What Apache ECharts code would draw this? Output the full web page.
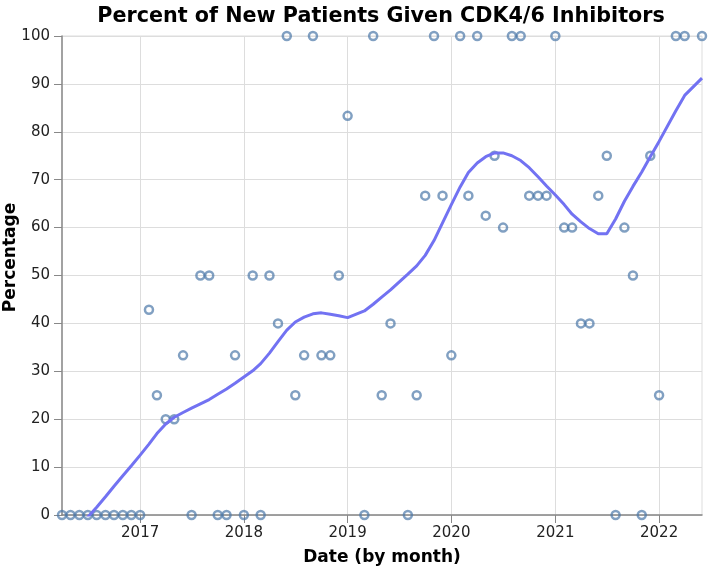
<!DOCTYPE html>
<html>
<head>
<meta charset="utf-8">
<script src="https://cdn.jsdelivr.net/npm/echarts@6/dist/echarts.min.js"></script>
<style>html,body{margin:0;padding:0;background:#fff}#c{width:709px;height:570px}</style>
</head>
<body>
<div id="c"></div>
<script>
var months = ['2016-04','2016-05','2016-06','2016-07','2016-08','2016-09','2016-10','2016-11','2016-12',
'2017-01','2017-02','2017-03','2017-04','2017-05','2017-06','2017-07','2017-08','2017-09','2017-10','2017-11','2017-12',
'2018-01','2018-02','2018-03','2018-04','2018-05','2018-06','2018-07','2018-08','2018-09','2018-10','2018-11','2018-12',
'2019-01','2019-03','2019-04','2019-05','2019-06','2019-08','2019-09','2019-10','2019-11','2019-12',
'2020-01','2020-02','2020-03','2020-04','2020-05','2020-06','2020-07','2020-08','2020-09','2020-10','2020-11','2020-12',
'2021-01','2021-02','2021-03','2021-04','2021-05','2021-06','2021-07','2021-08','2021-09','2021-10','2021-11','2021-12',
'2022-01','2022-03','2022-04','2022-06'];
var percentages = [0,0,0,0,0,0,0,0,0,
0,42.86,25,20,20,33.33,0,50,50,0,0,33.33,
0,50,0,50,40,100,25,33.33,100,33.33,33.33,50,
83.33,0,100,25,40,0,25,66.67,100,66.67,
33.33,100,66.67,100,62.5,75,60,100,100,66.67,66.67,66.67,
100,60,60,40,40,66.67,75,0,60,50,0,75,
25,100,100,100];
var loessFit = [-7,-4.8,-2.6,-0.4,1.6,3.8,6.0,8.2,10.3,
12.5,14.8,17,19,20.4,21.4,22.3,23.2,24.1,25.2,26.3,27.5,
28.8,30.1,31.6,33.8,36.2,38.6,40.3,41.3,42.0,42.2,41.9,41.6,
41.2,42.6,44,45.5,47,50.3,52,54.2,57.3,61,
64.8,68.5,71.5,73.5,74.8,75.6,75.6,75,74,72.5,70.6,68.7,
66.8,64.8,62.8,61.2,59.8,58.7,58.7,61.8,65.5,68.6,71.6,74.8,
78,84.4,87.6,91.2];
var yearTicks = ['2017','2018','2019','2020','2021','2022'];
var xStart = '2016-04', xEnd = '2022-06';

function ts(s){var p=s.split('-');return new Date(+p[0],(p[1]?+p[1]:1)-1,1).getTime();}
var scatterData = months.map(function(m,i){return [ts(m),percentages[i]];});
var lineData = months.map(function(m,i){return [ts(m),loessFit[i]];});
var yearTs = yearTicks.map(function(y){return ts(y);});

var chart = echarts.init(document.getElementById('c'));
var font = 'DejaVu Sans';
chart.setOption({
  animation:false,
  backgroundColor:'#fff',
  title:{text:'Percent of New Patients Given CDK4/6 Inhibitors',left:376,textAlign:'center',top:1,
    textStyle:{fontFamily:font,fontWeight:'bold',fontSize:20.7,color:'#000'}},
  grid:{left:62,right:7,top:36,bottom:55,show:true,borderColor:'#ddd',borderWidth:1,containLabel:false,outerBoundsMode:'none'},
  xAxis:{type:'value',min:ts(xStart),max:ts(xEnd),scale:true,
    name:'Date (by month)',nameLocation:'middle',nameGap:34,nameMoveOverlap:false,
    nameTextStyle:{fontFamily:font,fontWeight:'bold',fontSize:17,color:'#000'},
    axisLine:{show:true,onZero:false,lineStyle:{color:'#888',width:1.5}},
    axisTick:{show:true,length:8,lineStyle:{color:'#888'},customValues:yearTs},
    axisLabel:{fontFamily:font,fontSize:15,color:'#222',margin:11,customValues:yearTs,
      formatter:function(v){return String(new Date(v).getFullYear());}},
    splitLine:{show:true,lineStyle:{color:'#ddd',width:1}}},
  yAxis:{type:'value',min:0,max:100,interval:10,
    name:'Percentage',nameLocation:'middle',nameGap:43,nameMoveOverlap:false,
    nameTextStyle:{fontFamily:font,fontWeight:'bold',fontSize:17,color:'#000',padding:[0,0,0,36]},
    axisLine:{show:true,lineStyle:{color:'#888',width:1.5}},
    axisTick:{show:true,length:8,lineStyle:{color:'#888'}},
    axisLabel:{fontFamily:font,fontSize:15,color:'#222',margin:12},
    splitLine:{show:true,lineStyle:{color:'#ddd',width:1}}},
  series:[
    {type:'scatter',data:scatterData,symbol:'circle',symbolSize:8,clip:false,z:3,
      itemStyle:{color:'rgba(255,255,255,0)',borderColor:'#4c78a8',borderWidth:2.5,opacity:0.7}},
    {type:'line',data:lineData,showSymbol:false,symbol:'none',clip:true,z:4,
      lineStyle:{color:'#7272f2',width:3}}
  ]
});
</script>
</body>
</html>
